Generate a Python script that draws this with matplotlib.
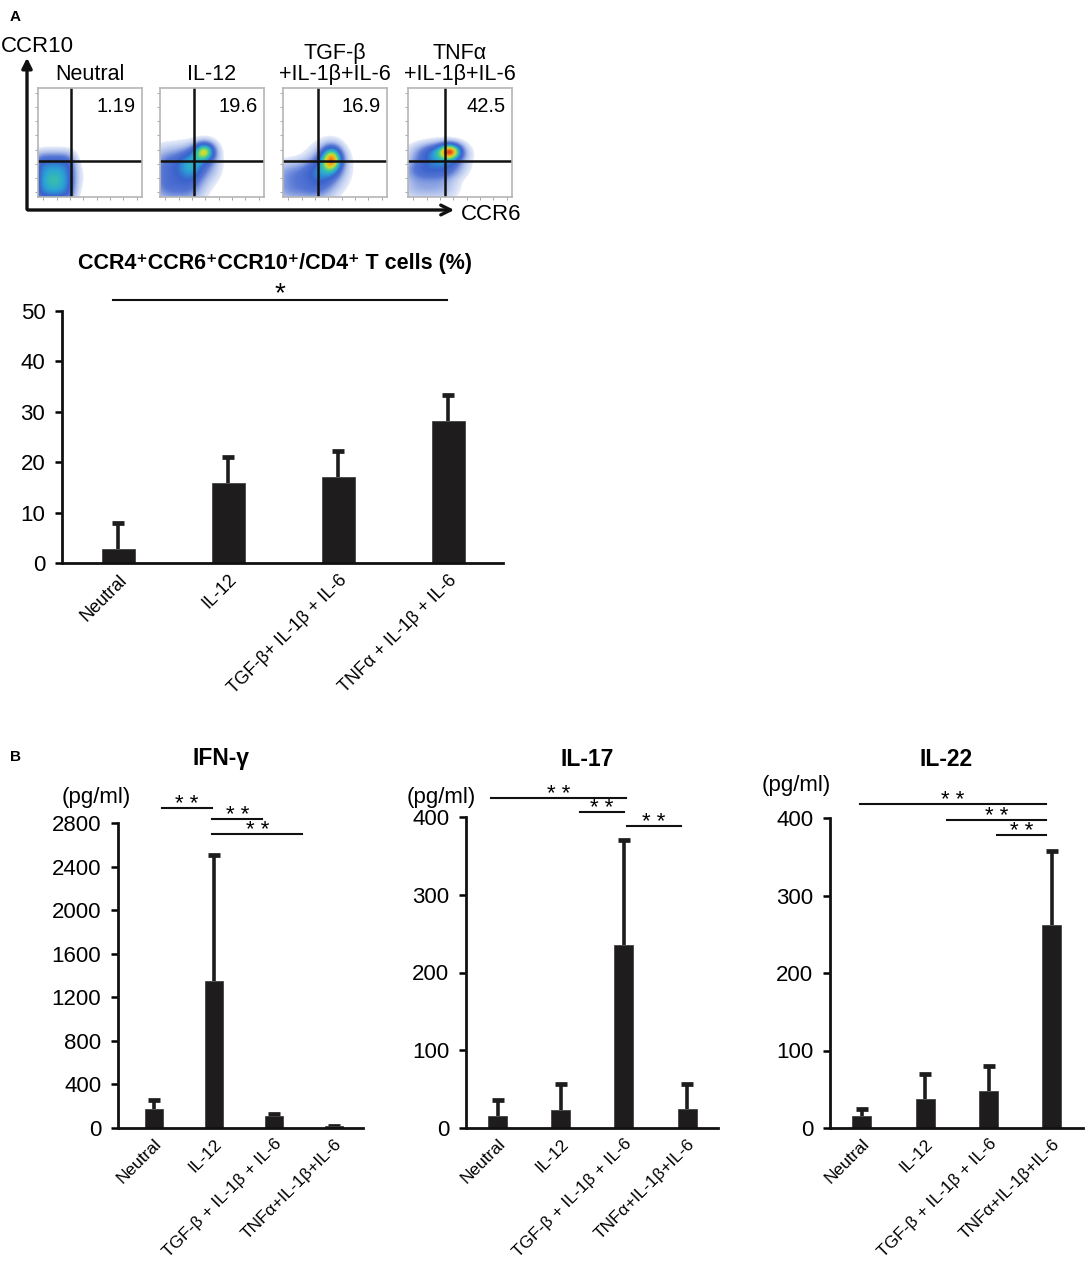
import numpy as np
import matplotlib
matplotlib.use('Agg')
from matplotlib import pyplot as plt
from matplotlib.colors import LinearSegmentedColormap

plt.rcParams['font.family'] = ['Liberation Sans', 'DejaVu Sans']

W, H = 1089, 1268

# --- данные панели A (проточная цитометрия) ---
flow_titles = ['Neutral', 'IL-12', 'TGF-β\n+IL-1β+IL-6', 'TNFα\n+IL-1β+IL-6']
flow_pct = ['1.19', '19.6', '16.9', '42.5']
flow_gate_x = [0.32, 0.33, 0.34, 0.36]
flow_gate_y = [0.33, 0.33, 0.33, 0.33]
flow_peak = [0.6, 0.78, 0.93, 0.98]
# облака клеток: (cx, cy, sx, sy, вес, степень)
flow_blobs = [
    [(0.15, 0.17, 0.17, 0.2, 1.0, 4), (0.15, 0.15, 0.08, 0.08, 0.25, 2), (0.38, 0.18, 0.07, 0.12, 0.12, 2)],
    [(0.17, 0.2, 0.2, 0.2, 0.6, 3), (0.32, 0.3, 0.1, 0.1, 0.45, 2), (0.43, 0.42, 0.07, 0.06, 1.0, 2),
     (0.5, 0.3, 0.08, 0.12, 0.2, 2)],
    [(0.17, 0.14, 0.22, 0.15, 0.42, 3), (0.42, 0.26, 0.13, 0.14, 0.5, 2), (0.47, 0.35, 0.07, 0.08, 1.0, 2)],
    [(0.2, 0.15, 0.22, 0.14, 0.4, 3), (0.28, 0.34, 0.22, 0.12, 0.5, 3), (0.33, 0.4, 0.13, 0.07, 0.55, 2),
     (0.41, 0.42, 0.07, 0.05, 1.0, 2)],
]

# --- данные панели A (столбцы) ---
cat_a = ['Neutral', 'IL-12', 'TGF-β+ IL-1β + IL-6', 'TNFα + IL-1β + IL-6']
pct_mean = [2.8, 15.8, 17.1, 28.1]
pct_sd = [5.1, 5.2, 5.2, 5.2]
sig_a = [(-0.05, 2.99, 52.2, '*')]

# --- данные панели B ---
cat_b = ['Neutral', 'IL-12', 'TGF-β + IL-1β + IL-6', 'TNFα+IL-1β+IL-6']
ifn_mean = [178, 1352, 107, 15]
ifn_sd = [77, 1157, 25, 4]
il17_mean = [15, 23, 235, 24]
il17_sd = [21, 34, 136, 33]
il22_mean = [16, 37, 48, 262]
il22_sd = [8, 33, 32, 96]
ifn_sig = [(0.13, 0.97, 2938), (0.97, 1.8, 2837), (0.97, 2.47, 2699)]
il17_sig = [(-0.1, 2.03, 424), (1.3, 2.0, 406), (2.05, 2.9, 388)]
il22_sig = [(-0.03, 2.91, 418), (1.34, 2.91, 397), (2.13, 2.91, 378)]

bar_color = '#1e1c1d'
cmap = LinearSegmentedColormap.from_list(
    'flow', ['#e6ecf9', '#a9bbea', '#5676d4', '#3a62cc', '#2aa3d6', '#3fc99b', '#c9e02e', '#f6a21e', '#e8281a'])
cmap.set_under('white')

fig = plt.figure(figsize=(W / 100, H / 100), dpi=100)


def px_axes(l, t, r, b):
    return fig.add_axes([l / W, 1 - b / H, (r - l) / W, (b - t) / H])


# оверлей в пикселях для стрелок и подписей
ov = fig.add_axes([0, 0, 1, 1], zorder=-1)
ov.set_xlim(0, W)
ov.set_ylim(H, 0)
ov.axis('off')

ov.text(10, 17, 'A', fontsize=11, fontweight='bold', va='center')
ov.text(10, 757, 'B', fontsize=11, fontweight='bold', va='center')
ov.annotate('', xy=(27, 55), xytext=(27, 212),
            arrowprops=dict(arrowstyle='-|>,head_length=0.6,head_width=0.3', lw=2.4, color='#111111'))
ov.annotate('', xy=(457, 210), xytext=(25, 210),
            arrowprops=dict(arrowstyle='->,head_length=0.7,head_width=0.35', lw=2.4, color='#111111'))
ov.text(1, 46, 'CCR10', fontsize=16, va='center', ha='left')
ov.text(461, 215, 'CCR6', fontsize=16, va='center', ha='left')

# точечные графики цитометрии
flow_left = [38, 160, 283, 408]
gx, gy = np.meshgrid(np.linspace(0, 1, 160), np.linspace(0, 1, 160))
for i in range(4):
    ax = px_axes(flow_left[i], 88, flow_left[i] + 104, 197)
    d = np.zeros_like(gx)
    for cx, cy, sx, sy, w, p in flow_blobs[i]:
        d += w * np.exp(-0.5 * (np.abs((gx - cx) / sx) ** p + np.abs((gy - cy) / sy) ** p))
    d = d / d.max() * flow_peak[i]
    ax.imshow(d, extent=(0, 1, 0, 1), origin='lower', cmap=cmap, vmin=0.05, vmax=1.0,
              interpolation='bilinear', aspect='auto')
    ax.axvline(flow_gate_x[i], color='#111111', lw=1.8)
    ax.axhline(flow_gate_y[i], color='#111111', lw=1.8)
    ax.set_xlim(0, 1)
    ax.set_ylim(0, 1)
    ax.set_xticks(np.linspace(0.05, 0.95, 8))
    ax.set_yticks(np.linspace(0.05, 0.95, 8))
    ax.tick_params(length=2, width=0.6, color='#999999', labelleft=False, labelbottom=False)
    for s in ax.spines.values():
        s.set_color('#b5b5b5')
        s.set_linewidth(1.2)
    ax.text(0.94, 0.83, flow_pct[i], transform=ax.transAxes, ha='right', va='center', fontsize=14.5)
    ax.text(0.5, 1.03, flow_titles[i], transform=ax.transAxes, ha='center', va='bottom',
            fontsize=15.5, linespacing=1.0)


def style_bar_axes(ax, ylabel_size, xlabel_size):
    for s in ['top', 'right']:
        ax.spines[s].set_visible(False)
    for s in ['left', 'bottom']:
        ax.spines[s].set_linewidth(2)
        ax.spines[s].set_color('#111111')
    ax.tick_params(axis='y', length=5, width=1.8, pad=7, labelsize=ylabel_size)
    ax.tick_params(axis='x', length=0, pad=6, labelsize=xlabel_size)


def draw_bars(ax, mean, sd):
    x = np.arange(len(mean))
    top = np.array(mean) + np.array(sd)
    ax.vlines(x, mean, top, color=bar_color, lw=2.6, zorder=1)
    ax.scatter(x, top, marker='_', s=70, linewidths=3.4, color=bar_color, zorder=1)
    ax.bar(x, mean, width=0.3, color=bar_color, edgecolor='#444444', linewidth=0.6, zorder=2)


def sig_line(ax, x0, x1, y, label, fs, off):
    ax.plot([x0, x1], [y, y], color='#111111', lw=1.5, clip_on=False)
    ax.annotate(label, xy=((x0 + x1) / 2, y), xytext=(0, off), textcoords='offset points',
                ha='center', va='center', fontsize=fs, annotation_clip=False)


# столбчатая диаграмма A
axa = px_axes(62, 311, 503, 563)
draw_bars(axa, pct_mean, pct_sd)
axa.set_xlim(-0.51, 3.5)
axa.set_ylim(0, 50)
axa.set_yticks(range(0, 51, 10))
axa.set_xticks(range(4))
axa.set_xticklabels(cat_a, rotation=45, ha='right', rotation_mode='anchor')
style_bar_axes(axa, 16, 13)
for x0, x1, y, lab in sig_a:
    sig_line(axa, x0, x1, y, lab, 20, 4)
ov.text(275, 263, 'CCR4⁺CCR6⁺CCR10⁺/CD4⁺ T cells (%)', fontsize=15.5, fontweight='bold',
        ha='center', va='center')

# панель B
panels_b = [
    ('IFN-γ', (118, 823, 363, 1128), (-0.6, 3.48), ifn_mean, ifn_sd, 2800, 400, ifn_sig, (96, 798)),
    ('IL-17', (466, 817, 718, 1128), (-0.5, 3.49), il17_mean, il17_sd, 400, 100, il17_sig, (441, 797)),
    ('IL-22', (830, 818, 1083, 1128), (-0.5, 3.49), il22_mean, il22_sd, 400, 100, il22_sig, (796, 785)),
]
title_x = [221, 587, 946]
for k, (name, box, xl, mean, sd, ymax, step, sigs, unit_pos) in enumerate(panels_b):
    ax = px_axes(*box)
    draw_bars(ax, mean, sd)
    ax.set_xlim(*xl)
    ax.set_ylim(0, ymax)
    ax.set_yticks(range(0, ymax + 1, step))
    ax.set_xticks(range(4))
    ax.set_xticklabels(cat_b, rotation=45, ha='right', rotation_mode='anchor')
    style_bar_axes(ax, 16, 12.5)
    for x0, x1, y in sigs:
        sig_line(ax, x0, x1, y, '* *', 16, 2.5)
    ov.text(title_x[k], 759, name, fontsize=16.5, fontweight='bold', ha='center', va='center')
    ov.text(unit_pos[0], unit_pos[1], '(pg/ml)', fontsize=16, ha='center', va='center')

fig.savefig('out.png', dpi=100, facecolor='white')
plt.close(fig)
